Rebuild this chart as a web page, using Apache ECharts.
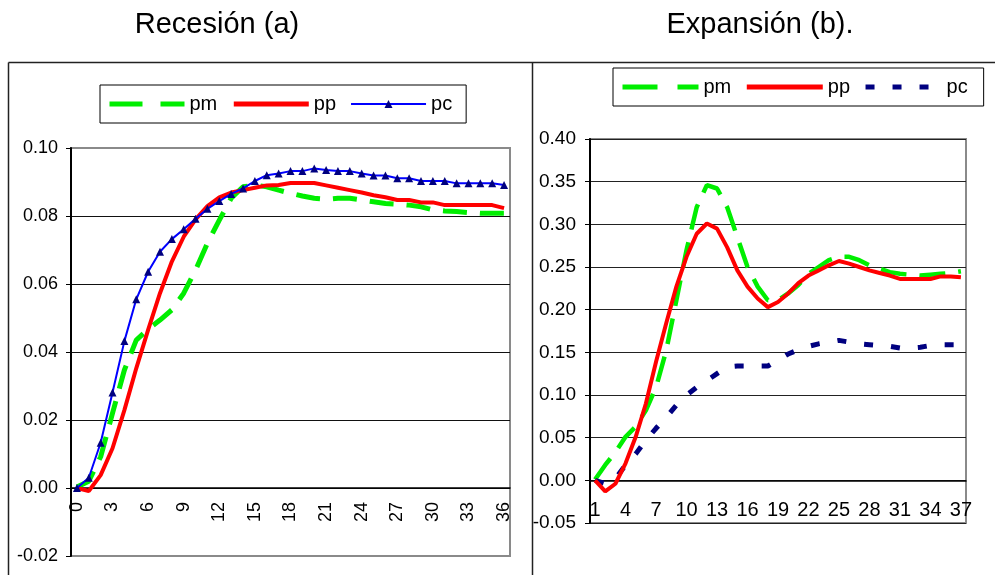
<!DOCTYPE html>
<html><head><meta charset="utf-8">
<script src="https://cdn.jsdelivr.net/npm/echarts@6/dist/echarts.min.js"></script>
<style>html,body{margin:0;padding:0;background:#fff}#c{width:995px;height:575px}</style>
</head><body><div id="c"></div>
<script>
// ---- Data: Recesión (a) ----
const monthsA = ['0','1','2','3','4','5','6','7','8','9','10','11','12','13','14','15','16','17','18','19','20','21','22','23','24','25','26','27','28','29','30','31','32','33','34','35','36'];
const pmA = [0.0003,0.0020,0.0092,0.0220,0.0347,0.0435,0.0467,0.0494,0.0524,0.0573,0.0641,0.0720,0.0788,0.0852,0.0886,0.0891,0.0886,0.0876,0.0867,0.0859,0.0852,0.0849,0.0852,0.0852,0.0847,0.0842,0.0837,0.0835,0.0832,0.0827,0.0818,0.0815,0.0813,0.0810,0.0808,0.0808,0.0808];
const ppA = [0.0000,-0.0009,0.0038,0.0117,0.0229,0.0352,0.0465,0.0573,0.0666,0.0739,0.0790,0.0829,0.0855,0.0869,0.0876,0.0883,0.0890,0.0891,0.0897,0.0897,0.0897,0.0890,0.0883,0.0876,0.0869,0.0861,0.0855,0.0847,0.0847,0.0840,0.0840,0.0832,0.0832,0.0832,0.0832,0.0832,0.0823];
const pcA = [0.0000,0.0030,0.0133,0.0281,0.0432,0.0555,0.0636,0.0695,0.0732,0.0761,0.0792,0.0821,0.0844,0.0865,0.0881,0.0903,0.0920,0.0925,0.0932,0.0932,0.0940,0.0935,0.0932,0.0932,0.0925,0.0919,0.0919,0.0911,0.0911,0.0903,0.0903,0.0903,0.0896,0.0896,0.0896,0.0896,0.0891];
// ---- Data: Expansión (b) ----
const monthsB = ['1','2','3','4','5','6','7','8','9','10','11','12','13','14','15','16','17','18','19','20','21','22','23','24','25','26','27','28','29','30','31','32','33','34','35','36','37'];
const pmB = [0.001,0.018,0.033,0.051,0.063,0.082,0.109,0.152,0.211,0.270,0.320,0.346,0.342,0.320,0.285,0.250,0.227,0.211,0.211,0.219,0.229,0.242,0.250,0.258,0.262,0.262,0.258,0.252,0.248,0.244,0.242,0.241,0.240,0.241,0.242,0.243,0.245];
const ppB = [0.000,-0.013,-0.004,0.020,0.051,0.090,0.139,0.184,0.227,0.262,0.289,0.301,0.295,0.273,0.246,0.227,0.213,0.203,0.209,0.219,0.231,0.240,0.246,0.252,0.257,0.254,0.250,0.246,0.243,0.240,0.236,0.236,0.236,0.236,0.239,0.239,0.238];
const pcB = [0.000,-0.004,0.002,0.018,0.031,0.047,0.061,0.074,0.088,0.100,0.109,0.117,0.125,0.133,0.134,0.134,0.134,0.134,0.141,0.148,0.153,0.157,0.160,0.162,0.164,0.162,0.160,0.159,0.158,0.157,0.155,0.155,0.156,0.158,0.159,0.159,0.159];

// axis ranges
const yRangeA = [-0.02, 0.10, 0.02];
const yRangeB = [-0.05, 0.40, 0.05];

const FONT = 'Liberation Sans, Arial, sans-serif';
const chart = echarts.init(document.getElementById('c'), null, {renderer: 'canvas'});
const legendFmt = n => n.split(' ')[0];

const gridA = {left: 71, top: 148, width: 439, height: 408};
const gridB = {left: 590, top: 139, width: 376, height: 384};
// x axis sits on the zero line of the value axis
const zeroOffset = (g, r) => -g.height * (0 - r[0]) / (r[1] - r[0]);

const hideSym = {opacity: 0};
const option = {
  backgroundColor: '#fff',
  animation: false,
  title: [
    {text: 'Recesión (a)', left: 212, top: 5, textAlign: 'center',
     textStyle: {fontFamily: FONT, fontSize: 29, fontWeight: 'normal', color: '#000'}},
    {text: 'Expansión (b).', left: 755, top: 5, textAlign: 'center',
     textStyle: {fontFamily: FONT, fontSize: 29, fontWeight: 'normal', color: '#000'}}
  ],
  legend: [
    {left: 100, top: 85, orient: 'horizontal', formatter: legendFmt,
     data: [
       {name: 'pm', itemStyle: hideSym, lineStyle: {width: 5, type: [33, 18]}},
       {name: 'pp', itemStyle: hideSym, lineStyle: {width: 5}},
       {name: 'pc', lineStyle: {width: 2}}
     ],
     itemWidth: 75, itemHeight: 10, itemGap: 14, padding: [9, 14, 9, 7],
     borderColor: '#000', borderWidth: 1, backgroundColor: '#fff',
     textStyle: {fontFamily: FONT, fontSize: 20, color: '#000'}},
    {left: 613, top: 68, orient: 'horizontal', formatter: legendFmt,
     data: [
       {name: 'pm (b)', itemStyle: hideSym, lineStyle: {width: 5, type: [35, 20]}},
       {name: 'pp (b)', itemStyle: hideSym, lineStyle: {width: 5}},
       {name: 'pc (b)', itemStyle: hideSym, lineStyle: {width: 5, type: [9, 18]}}
     ],
     itemWidth: 76, itemHeight: 20, itemGap: 13, padding: [9, 16, 9, 7],
     borderColor: '#000', borderWidth: 1, backgroundColor: '#fff',
     textStyle: {fontFamily: FONT, fontSize: 20, color: '#000'}}
  ],
  grid: [
    Object.assign({show: true, borderColor: '#8a8a8a', borderWidth: 2, backgroundColor: '#fff'}, gridA),
    Object.assign({show: true, borderColor: '#8a8a8a', borderWidth: 2, backgroundColor: '#fff'}, gridB)
  ],
  xAxis: [
    {type: 'category', gridIndex: 0, data: monthsA, boundaryGap: true, position: 'bottom',
     offset: zeroOffset(gridA, yRangeA),
     axisLine: {onZero: false, lineStyle: {color: '#000', width: 1.5}},
     axisTick: {interval: 0, length: 6, lineStyle: {color: '#000'}},
     axisLabel: {interval: 2, rotate: 90, margin: 14, fontFamily: FONT, fontSize: 18, color: '#000'},
     splitLine: {show: false}},
    {type: 'category', gridIndex: 1, data: monthsB, boundaryGap: true, position: 'bottom',
     offset: zeroOffset(gridB, yRangeB),
     axisLine: {onZero: false, lineStyle: {color: '#000', width: 1.5}},
     axisTick: {interval: 0, length: 5, lineStyle: {color: '#000'}},
     axisLabel: {interval: 2, margin: 20, fontFamily: FONT, fontSize: 20, color: '#000'},
     splitLine: {show: false}}
  ],
  yAxis: [
    {type: 'value', gridIndex: 0, min: yRangeA[0], max: yRangeA[1], interval: yRangeA[2],
     axisLine: {show: true, lineStyle: {color: '#000', width: 2}},
     axisTick: {show: true, length: 5, lineStyle: {color: '#000'}},
     axisLabel: {margin: 13, fontFamily: FONT, fontSize: 18, color: '#000', formatter: v => v.toFixed(2)},
     splitLine: {show: true, showMinLine: false, showMaxLine: false, lineStyle: {color: '#111', width: 1.2}}},
    {type: 'value', gridIndex: 1, min: yRangeB[0], max: yRangeB[1], interval: yRangeB[2],
     axisLine: {show: true, lineStyle: {color: '#000', width: 2}},
     axisTick: {show: true, length: 5, lineStyle: {color: '#000'}},
     axisLabel: {margin: 14, fontFamily: FONT, fontSize: 19, color: '#000', formatter: v => v.toFixed(2)},
     splitLine: {show: true, lineStyle: {color: '#222', width: 1.2}}}
  ],
  series: [
    {name: 'pm', type: 'line', xAxisIndex: 0, yAxisIndex: 0, data: pmA, symbol: 'none', z: 3,
     lineStyle: {color: '#00ee00', width: 5, type: [24, 13]}, itemStyle: {color: '#00ee00'}},
    {name: 'pp', type: 'line', xAxisIndex: 0, yAxisIndex: 0, data: ppA, symbol: 'none', z: 4,
     lineStyle: {color: '#ff0000', width: 4}, itemStyle: {color: '#ff0000'}},
    {name: 'pc', type: 'line', xAxisIndex: 0, yAxisIndex: 0, data: pcA, symbol: 'triangle', symbolSize: 8, showAllSymbol: true, z: 5,
     lineStyle: {color: '#0000ff', width: 2}, itemStyle: {color: '#000080'}},
    {name: 'pm (b)', type: 'line', xAxisIndex: 1, yAxisIndex: 1, data: pmB, symbol: 'none', z: 3,
     lineStyle: {color: '#00ee00', width: 4.5, type: [26, 13]}, itemStyle: {color: '#00ee00'}},
    {name: 'pp (b)', type: 'line', xAxisIndex: 1, yAxisIndex: 1, data: ppB, symbol: 'none', z: 4,
     lineStyle: {color: '#ff0000', width: 4}, itemStyle: {color: '#ff0000'}},
    {name: 'pc (b)', type: 'line', xAxisIndex: 1, yAxisIndex: 1, data: pcB, symbol: 'none', z: 3,
     lineStyle: {color: '#000080', width: 5, type: [9, 18]}, itemStyle: {color: '#000080'}}
  ],
  graphic: [
    {type: 'line', shape: {x1: 8.5, y1: 62.5, x2: 995, y2: 62.5}, style: {stroke: '#222', lineWidth: 1.5}, silent: true},
    {type: 'line', shape: {x1: 8.5, y1: 62.5, x2: 8.5, y2: 575}, style: {stroke: '#222', lineWidth: 1.5}, silent: true},
    {type: 'line', shape: {x1: 532.5, y1: 62.5, x2: 532.5, y2: 575}, style: {stroke: '#222', lineWidth: 1.5}, silent: true}
  ]
};
chart.setOption(option);
</script>
</body></html>
